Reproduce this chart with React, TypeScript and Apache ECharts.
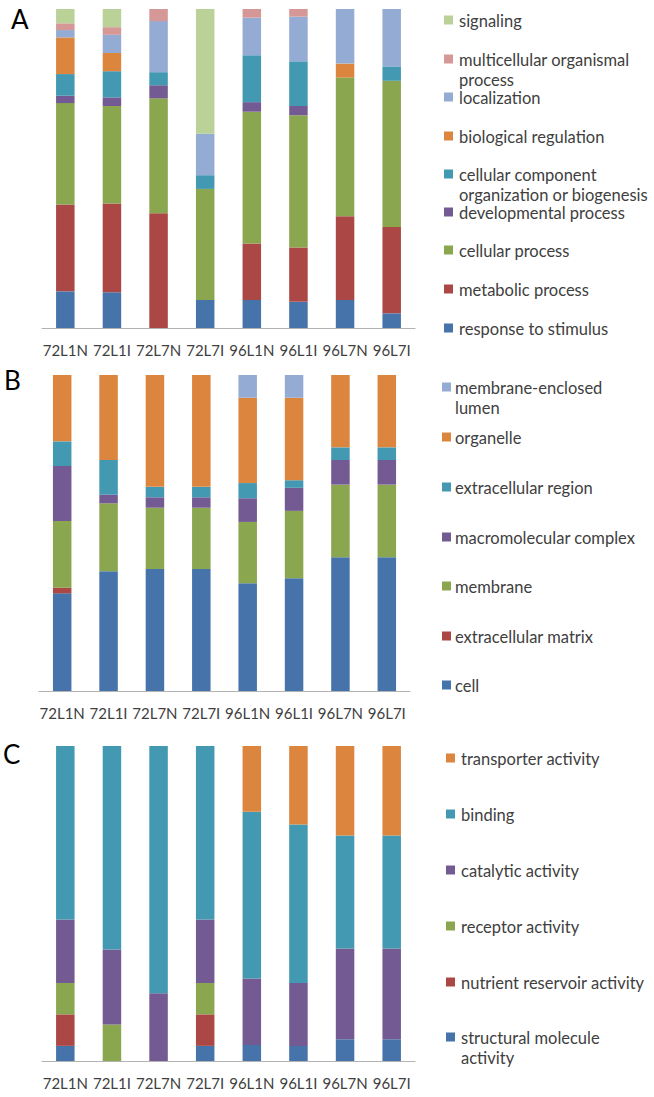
import React, { useEffect, useRef } from "react";
import * as echarts from "echarts";

const categories = ["72L1N", "72L1I", "72L7N", "72L7I", "96L1N", "96L1I", "96L7N", "96L7I"];

// Panel A – biological process (percent, bottom to top)
const aNames = [
  "response to stimulus",
  "metabolic process",
  "cellular process",
  "developmental process",
  "cellular component organization or biogenesis",
  "biological regulation",
  "localization",
  "multicellular organismal process",
  "signaling",
];
const aResponse = [11.5, 11.2, 0, 8.8, 8.8, 8.2, 8.8, 4.6];
const aMetabolic = [27.2, 27.8, 36.0, 0, 17.7, 17.0, 26.2, 27.1];
const aCellular = [31.8, 30.6, 36.0, 34.8, 41.3, 41.5, 43.5, 45.8];
const aDevelopmental = [2.3, 2.7, 4.1, 0, 3.0, 2.9, 0, 0];
const aCellComp = [6.8, 8.2, 4.1, 4.3, 14.7, 14.0, 0, 4.5];
const aBioReg = [11.5, 5.7, 0, 0, 0, 0, 4.4, 0];
const aLocalization = [2.3, 5.7, 16.0, 13.0, 11.8, 14.0, 17.1, 18.0];
const aMulticellular = [2.1, 2.4, 3.8, 0, 2.7, 2.4, 0, 0];
const aSignaling = [4.5, 5.7, 0, 39.1, 0, 0, 0, 0];
const aValues = [aResponse, aMetabolic, aCellular, aDevelopmental, aCellComp, aBioReg, aLocalization, aMulticellular, aSignaling];

// Panel B – cellular component
const bNames = [
  "cell",
  "extracellular matrix",
  "membrane",
  "macromolecular complex",
  "extracellular region",
  "organelle",
  "membrane-enclosed lumen",
];
const bCell = [30.9, 37.9, 38.6, 38.6, 34.1, 35.7, 42.3, 42.3];
const bMatrix = [1.8, 0, 0, 0, 0, 0, 0, 0];
const bMembrane = [21.1, 21.5, 19.4, 19.4, 19.4, 21.3, 23.0, 23.0];
const bMacro = [17.4, 2.7, 3.3, 3.3, 7.5, 7.3, 7.8, 7.8];
const bRegion = [7.8, 11.0, 3.3, 3.3, 4.8, 2.4, 4.0, 4.0];
const bOrganelle = [21.0, 26.9, 35.4, 35.4, 27.0, 26.1, 22.9, 22.9];
const bLumen = [0, 0, 0, 0, 7.2, 7.2, 0, 0];
const bValues = [bCell, bMatrix, bMembrane, bMacro, bRegion, bOrganelle, bLumen];

// Panel C – molecular function
const cNames = [
  "structural molecule activity",
  "nutrient reservoir activity",
  "receptor activity",
  "catalytic activity",
  "binding",
  "transporter activity",
];
const cStructural = [4.8, 0, 0, 4.8, 5.1, 4.8, 6.9, 6.9];
const cNutrient = [10.0, 0, 0, 10.0, 0, 0, 0, 0];
const cReceptor = [10.0, 11.6, 0, 10.0, 0, 0, 0, 0];
const cCatalytic = [20.1, 23.8, 21.5, 20.1, 21.1, 20.0, 28.8, 28.8];
const cBinding = [55.1, 64.6, 78.5, 55.1, 52.9, 50.3, 35.9, 35.9];
const cTransporter = [0, 0, 0, 0, 20.9, 24.9, 28.4, 28.4];
const cValues = [cStructural, cNutrient, cReceptor, cCatalytic, cBinding, cTransporter];

const BLUE = "#4674aa";
const RED = "#ab4744";
const GREEN = "#8aa64f";
const PURPLE = "#735a93";
const TEAL = "#4399b1";
const ORANGE = "#db853e";
const LBLUE = "#94abd3";
const PINK = "#d69896";
const LGREEN = "#bad197";

const aColors = [BLUE, RED, GREEN, PURPLE, TEAL, ORANGE, LBLUE, PINK, LGREEN];
const bColors = [BLUE, RED, GREEN, PURPLE, TEAL, ORANGE, LBLUE];
const cColors = [BLUE, RED, GREEN, PURPLE, TEAL, ORANGE];

// Legend labels (top to bottom), with line breaks as in the figure
const aLegend = [
  "signaling",
  "multicellular organismal\nprocess",
  "localization",
  "biological regulation",
  "cellular component\norganization or biogenesis",
  "developmental process",
  "cellular process",
  "metabolic process",
  "response to stimulus",
];
const bLegend = [
  "membrane-enclosed\nlumen",
  "organelle",
  "extracellular region",
  "macromolecular complex",
  "membrane",
  "extracellular matrix",
  "cell",
];
const cLegend = [
  "transporter activity",
  "binding",
  "catalytic activity",
  "receptor activity",
  "nutrient reservoir activity",
  "structural molecule\nactivity",
];

const FONT = "Lato, 'Open Sans', sans-serif";
const TEXT = "#404040";
const AXIS = "#b3b3b3";

export default function App() {
  const ref = useRef<HTMLDivElement>(null);
  useEffect(() => {
    if (!ref.current) return;
    const chart = echarts.init(ref.current, undefined, { renderer: "svg" });

    const grids = [
      { left: 42, top: 9, width: 373, height: 319 },
      { left: 39, top: 375, width: 371, height: 316 },
      { left: 42, top: 746, width: 373, height: 315 },
    ];

    const xAxes = grids.map((_, i) => ({
      type: "category",
      gridIndex: i,
      data: categories,
      axisLine: { lineStyle: { color: AXIS, width: 1 } },
      axisTick: { length: 5, lineStyle: { color: AXIS } },
      axisLabel: { margin: 14, fontSize: 15, fontFamily: FONT, color: TEXT, interval: 0 },
    }));
    const yAxes = grids.map((_, i) => ({
      type: "value",
      gridIndex: i,
      min: 0,
      max: 100,
      show: false,
      splitLine: { show: false },
    }));

    const mk = (names: string[], values: number[][], colors: string[], idx: number) =>
      names.map((n, k) => ({
        name: n,
        type: "bar",
        stack: "s" + idx,
        xAxisIndex: idx,
        yAxisIndex: idx,
        barWidth: 18.5,
        data: values[k],
        itemStyle: { color: colors[k] },
        emphasis: { disabled: true },
      }));

    const series = [
      ...mk(aNames, aValues, aColors, 0),
      ...mk(bNames, bValues, bColors, 1),
      ...mk(cNames, cValues, cColors, 2),
    ];

    const legendGraphic = (labels: string[], colorsTopDown: string[], mx: number, tx: number, ys: number[]) =>
      labels.map((t, i) => {
        const multi = t.indexOf("\n") >= 0;
        const lh = multi ? 19.5 : 17;
        return {
          type: "group",
          children: [
            { type: "rect", shape: { x: mx, y: ys[i] - 4.5, width: 9, height: 9 }, style: { fill: colorsTopDown[i] } },
            {
              type: "text",
              x: tx,
              y: ys[i] + 1 - lh / 2,
              style: { text: t, fontSize: 16.5, fontFamily: FONT, fill: TEXT, lineHeight: lh, verticalAlign: "top" },
            },
          ],
        };
      });

    const graphic = [
      { type: "text", x: 11, y: 6, style: { text: "A", fontSize: 26, fontFamily: FONT, fill: "#000" } },
      { type: "text", x: 4, y: 367, style: { text: "B", fontSize: 26, fontFamily: FONT, fill: "#000" } },
      { type: "text", x: 3, y: 741, style: { text: "C", fontSize: 26, fontFamily: FONT, fill: "#000" } },
      ...legendGraphic(aLegend, [...aColors].reverse(), 444, 459, [20, 59, 97, 136, 174, 212, 250, 289, 328]),
      ...legendGraphic(bLegend, [...bColors].reverse(), 442, 455, [387, 437, 487, 537, 586, 636, 685]),
      ...legendGraphic(cLegend, [...cColors].reverse(), 446, 461, [758, 814, 870, 926, 982, 1037]),
    ];

    chart.setOption({
      animation: false,
      backgroundColor: "#ffffff",
      grid: grids,
      xAxis: xAxes,
      yAxis: yAxes,
      series,
      graphic,
    });
    return () => chart.dispose();
  }, []);
  return (
    <div
      ref={ref}
      style={{ position: "absolute", left: 0, top: 0, width: 654, height: 1097 }}
    />
  );
}
